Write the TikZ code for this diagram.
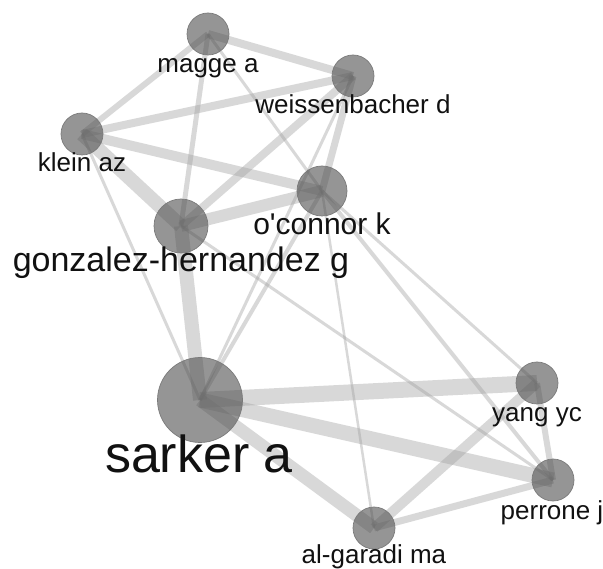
\documentclass[tikz,border=0pt]{standalone}
\usepackage{fontspec}
\setmainfont{Liberation Sans}
\usetikzlibrary{backgrounds}
\definecolor{ink}{HTML}{111111}
\definecolor{dot}{HTML}{4A4A4A}
\definecolor{dotrim}{HTML}{7A7A7A}
\definecolor{tiegray}{HTML}{9F9F9F}
\tikzset{
  author/.style ={circle, draw=dotrim, fill=dot, fill opacity=0.58, line width=0.7pt,
                  minimum size=#1, inner sep=0pt},
  link/.style   ={draw=tiegray, draw opacity=0.4, line width=#1pt},
  who/.style    ={anchor=base, text=ink, inner sep=0pt, font=\fontsize{#1}{#1}\selectfont},
}

\begin{document}
\begin{tikzpicture}[x=1pt,y=-1pt]
\useasboundingbox (0,0) rectangle (603,569);
% authors
\node[author=42pt] (magge) at (208,34) {};
\node[author=42pt] (weiss) at (353,76) {};
\node[author=42pt] (klein) at (82,134) {};
\node[author=50pt] (oconnor) at (322,191) {};
\node[author=54pt] (gonzalez) at (181,226) {};
\node[author=85pt] (sarker) at (200,400) {};
\node[author=42pt] (yang) at (537,383) {};
\node[author=42pt] (perrone) at (553,480) {};
\node[author=42pt] (algaradi) at (374,528) {};
% names
\node[who=26] (magge-t) at (208,73) {magge a};
\node[who=26] (weiss-t) at (353,114) {weissenbacher d};
\node[who=26] (klein-t) at (82,172) {klein az};
\node[who=30] (oconnor-t) at (322,235) {o\textquotesingle connor k};
\node[who=34] (gonzalez-t) at (181,272) {gonzalez-hernandez g};
\node[who=52] (sarker-t) at (199,472) {sarker a};
\node[who=26] (yang-t) at (537,422) {yang yc};
\node[who=26] (perrone-t) at (552,519) {perrone j};
\node[who=26] (algaradi-t) at (374,563) {al-garadi ma};
% co-authorship links
\begin{scope}[on background layer]
\fill[white] (0,0) rectangle (603,569);
\foreach \a/\b/\w in {magge/weiss/8, magge/klein/6, magge/gonzalez/5, magge/oconnor/3,
    klein/weiss/8, klein/oconnor/10, klein/gonzalez/14, klein/sarker/3,
    weiss/gonzalez/8, weiss/oconnor/7, weiss/sarker/3,
    gonzalez/oconnor/12, gonzalez/sarker/14, gonzalez/perrone/3,
    oconnor/sarker/4, oconnor/algaradi/2.5, oconnor/yang/3, oconnor/perrone/4,
    sarker/yang/16, sarker/perrone/15, sarker/algaradi/13,
    algaradi/yang/10, algaradi/perrone/7, yang/perrone/6}
  \draw[link=\w] (\a.center) -- (\b.center);
\end{scope}
\end{tikzpicture}
\end{document}
